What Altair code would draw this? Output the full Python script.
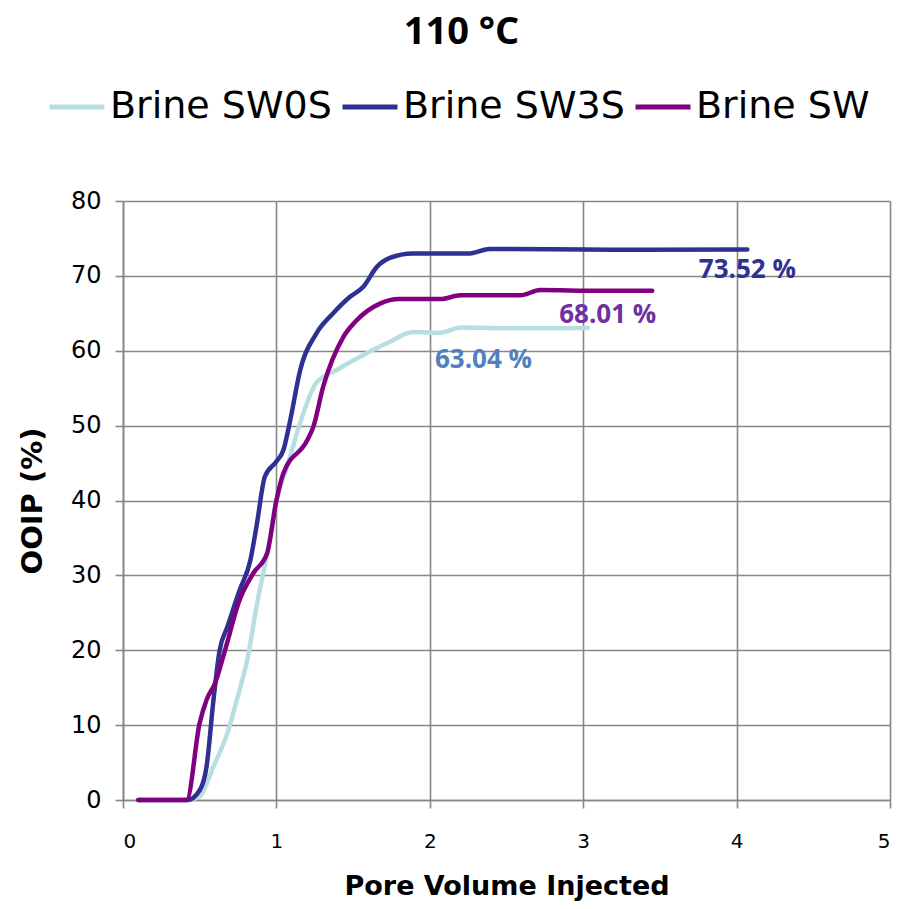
import altair as alt
import pandas as pd

# Brine SW0S (light blue)
sw0s_x = [0.42, 0.50, 0.59, 0.68, 0.76, 0.81, 0.87, 0.94, 1.00, 1.07, 1.14, 1.26, 1.39, 1.59, 1.74, 1.89, 2.07, 2.20, 2.60, 3.03]
sw0s_y = [0.0, 0.5, 4.5, 8.9, 14.7, 18.7, 25.8, 32.9, 40.0, 44.5, 49.4, 55.7, 57.4, 59.7, 61.2, 62.5, 62.4, 63.1, 63.0, 63.04]

# Brine SW3S (dark blue)
sw3s_x = [0.10, 0.30, 0.42, 0.50, 0.545, 0.59, 0.63, 0.68, 0.76, 0.83, 0.87, 0.925, 1.00, 1.045, 1.09, 1.155, 1.26, 1.37, 1.48, 1.565, 1.655, 1.74, 1.89, 2.26, 2.39, 3.20, 4.07]
sw3s_y = [0.0, 0.0, 0.0, 1.3, 4.5, 13.4, 20.0, 23.1, 28.0, 32.0, 36.5, 43.2, 45.2, 46.7, 50.7, 57.4, 62.3, 65.0, 67.2, 68.5, 71.2, 72.4, 73.0, 73.0, 73.6, 73.5, 73.52]

# Brine SW (purple)
sw_x = [0.10, 0.30, 0.415, 0.50, 0.545, 0.60, 0.665, 0.76, 0.85, 0.94, 1.00, 1.045, 1.20, 1.24, 1.305, 1.435, 1.52, 1.675, 1.80, 2.07, 2.20, 2.59, 2.72, 3.10, 3.45]
sw_y = [0.0, 0.0, 0.0, 10.3, 13.4, 15.6, 20.0, 26.7, 30.3, 33.0, 40.0, 43.6, 48.0, 49.8, 55.2, 61.8, 64.0, 66.3, 66.9, 66.9, 67.4, 67.4, 68.1, 68.0, 68.01]

series_names = ["Brine SW0S", "Brine SW3S", "Brine SW"]
series_colors = ["#B7DFE1", "#2E3192", "#800080"]

# end-value annotations
label_text = ["73.52 %", "68.01 %", "63.04 %"]
label_x = [4.07, 3.16, 2.35]
label_y = [70.8, 64.8, 58.7]
label_colors = ["#2E3192", "#7030A0", "#4F81BD"]

rows = []
for name, xs, ys in zip(series_names, [sw0s_x, sw3s_x, sw_x], [sw0s_y, sw3s_y, sw_y]):
    for i, (a, b) in enumerate(zip(xs, ys)):
        rows.append({"series": name, "pv": a, "ooip": b, "order": i})
df = pd.DataFrame(rows)
labels = pd.DataFrame({"text": label_text, "pv": label_x, "ooip": label_y, "color": label_colors})

x_scale = alt.Scale(domain=[0, 5], nice=False)
y_scale = alt.Scale(domain=[0, 80], nice=False)

GRID = "#878787"
FONT = "DejaVu Sans"

lines = alt.Chart(df).mark_line(strokeWidth=4.5, interpolate="monotone", strokeCap="round").encode(
    x=alt.X("pv:Q", scale=x_scale,
            axis=alt.Axis(title="Pore Volume Injected", values=[0, 1, 2, 3, 4, 5], format="d",
                          labelFont=FONT, titleFont=FONT, labelColor="black", titleColor="black",
                          labelFontSize=20, labelPadding=23, titleFontSize=27, titlePadding=22,
                          titleFontWeight="bold", grid=True, gridColor=GRID, gridWidth=1.6,
                          gridOpacity=1, domainColor=GRID, domainWidth=1.6, tickColor=GRID,
                          tickWidth=1.6, tickSize=8)),
    y=alt.Y("ooip:Q", scale=y_scale,
            axis=alt.Axis(title="OOIP (%)", values=list(range(0, 90, 10)),
                          labelFont=FONT, titleFont=FONT, labelColor="black", titleColor="black",
                          labelFontSize=24, labelPadding=14, titleFontSize=29, titlePadding=23,
                          titleFontWeight="bold", grid=True, gridColor=GRID, gridWidth=1.6,
                          gridOpacity=1, domainColor=GRID, domainWidth=1.6, tickColor=GRID,
                          tickWidth=1.6, tickSize=8)),
    color=alt.Color("series:N", scale=alt.Scale(domain=series_names, range=series_colors),
                    legend=alt.Legend(title=None, orient="none", direction="horizontal",
                                      legendX=-76, legendY=-124,
                                      symbolType="stroke", symbolStrokeWidth=5, symbolSize=3025,
                                      labelFontSize=38, labelFont=FONT, labelColor="black",
                                      columnPadding=0, labelOffset=3, labelLimit=400)),
    order="order:Q",
)

texts = alt.Chart(labels).mark_text(fontSize=26, fontWeight="bold", font="Open Sans").encode(
    x=alt.X("pv:Q", scale=x_scale),
    y=alt.Y("ooip:Q", scale=y_scale),
    text="text:N",
    color=alt.Color("color:N", scale=None),
)

chart = alt.layer(lines, texts).properties(
    width=767,
    height=599,
    autosize=alt.AutoSizeParams(type="none"),
    padding={"left": 115, "top": 193, "right": 9, "bottom": 101},
    title=alt.TitleParams("110 °C", fontSize=38, font="Open Sans", fontWeight="bold",
                          anchor="middle", frame="group", dx=-45, offset=25, color="black"),
).configure_view(stroke=GRID, strokeWidth=1.6).configure(background="white")

chart.save("out.html", embed_options={"renderer": "svg", "actions": False})
